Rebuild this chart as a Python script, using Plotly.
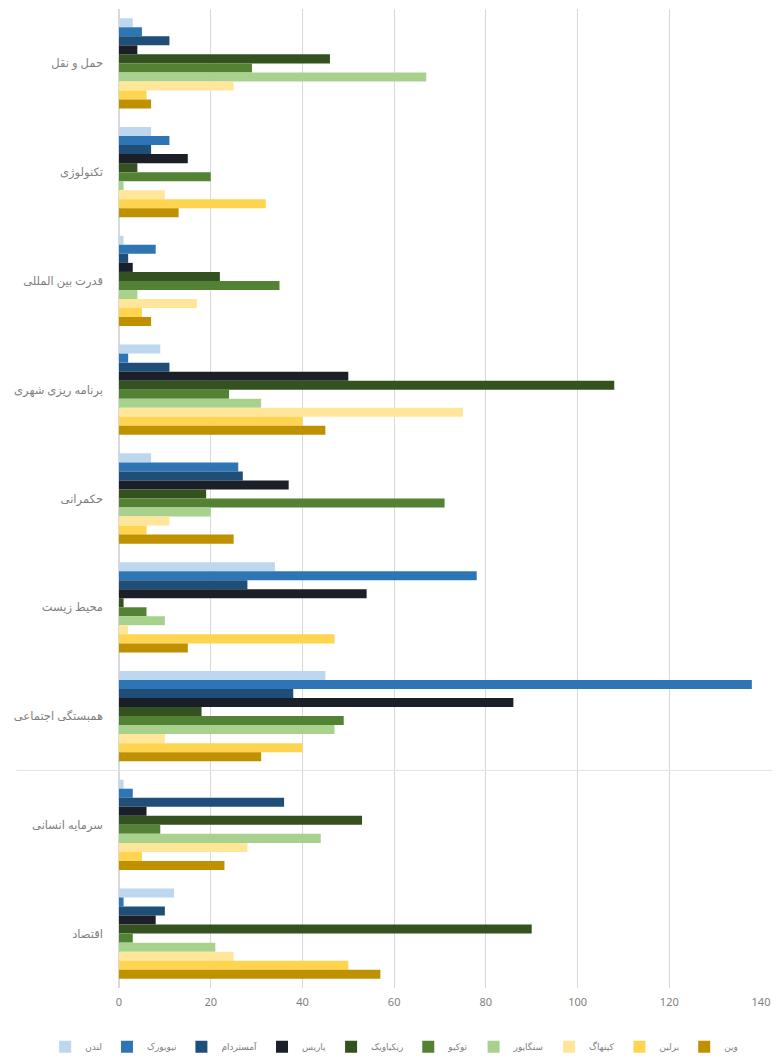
import plotly.graph_objects as go

categories = ["حمل و نقل", "تکنولوژی", "قدرت بین المللی", "برنامه ریزی شهری", "حکمرانی",
              "محیط زیست", "همبستگی اجتماعی", "سرمایه انسانی", "اقتصاد"]

cities = ["لندن", "نیویورک", "آمستردام", "پاریس", "ریکیاویک", "توکیو", "سنگاپور", "کپنهاگ", "برلین", "وین"]

london    = [3, 7, 1, 9, 7, 34, 45, 1, 12]
new_york  = [5, 11, 8, 2, 26, 78, 138, 3, 1]
amsterdam = [11, 7, 2, 11, 27, 28, 38, 36, 10]
paris     = [4, 15, 3, 50, 37, 54, 86, 6, 8]
reykjavik = [46, 4, 22, 108, 19, 1, 18, 53, 90]
tokyo     = [29, 20, 35, 24, 71, 6, 49, 9, 3]
singapore = [67, 1, 4, 31, 20, 10, 47, 44, 21]
copenhagen = [25, 10, 17, 75, 11, 2, 10, 28, 25]
berlin    = [6, 32, 5, 40, 6, 47, 40, 5, 50]
vienna    = [7, 13, 7, 45, 25, 15, 31, 23, 57]

series = [london, new_york, amsterdam, paris, reykjavik, tokyo, singapore, copenhagen, berlin, vienna]
colors = ["#bdd7ee", "#2e75b6", "#1f4e79", "#1b1f27", "#34521f", "#548235",
          "#a9d18e", "#ffe699", "#ffd54f", "#bf9000"]

x_ticks = [0, 20, 40, 60, 80, 100, 120, 140]

fig = go.Figure()
for name, vals, col in zip(cities, series, colors):
    fig.add_trace(go.Bar(
        y=categories, x=vals, name=name, orientation="h",
        marker=dict(color=col, line=dict(width=0)),
    ))

fig.update_layout(
    width=764, height=1054,
    barmode="group", bargap=0.17, bargroupgap=0,
    plot_bgcolor="white", paper_bgcolor="white",
    margin=dict(l=111, r=11, t=1, b=71),
    font=dict(family="Noto Sans, DejaVu Sans", color="#7f7f7f", size=10),
    legend=dict(orientation="h", xref="paper", yref="paper",
                x=-0.115, xanchor="left", y=-0.06, yanchor="middle",
                traceorder="normal", font=dict(size=9, color="#7f7f7f"),
                itemwidth=30, tracegroupgap=0),
    showlegend=True,
)
fig.update_xaxes(range=[0, 140], tickvals=x_ticks, showgrid=True, gridcolor="#d9d9d9",
                 gridwidth=1, zeroline=True, zerolinecolor="#d9d9d9", showline=False,
                 tickfont=dict(size=11, color="#7f7f7f"), ticks="", ticklabelstandoff=6)
fig.update_yaxes(autorange="reversed", type="category", showgrid=False, ticks="",
                 ticklabelstandoff=15, tickfont=dict(size=11.5, color="#7f7f7f"))

fig.add_shape(type="line", xref="paper", yref="y", x0=-0.16, x1=1.03, y0=6.5, y1=6.5,
              line=dict(color="#e3e3e3", width=1))

fig.write_html("out.html")
